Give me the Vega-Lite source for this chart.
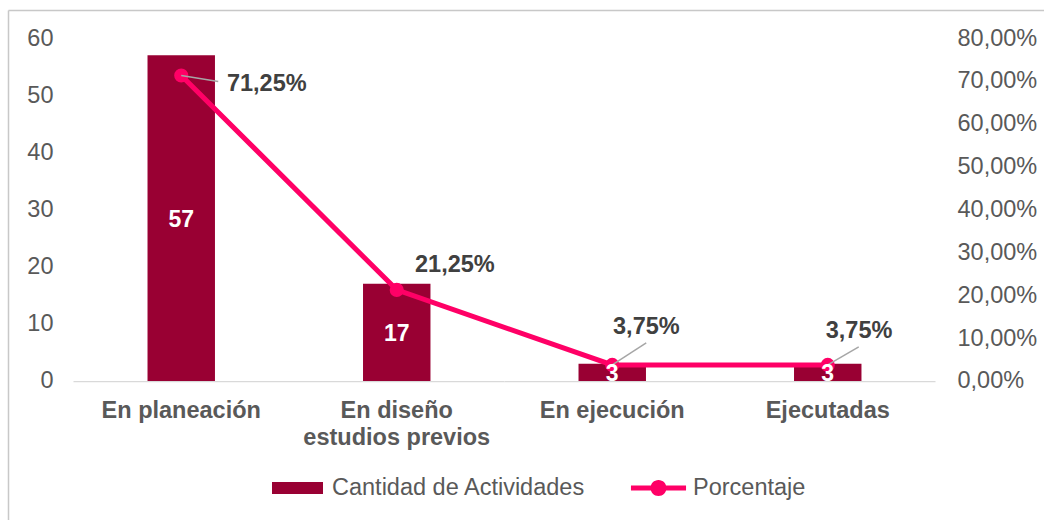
{
  "$schema": "https://vega.github.io/schema/vega-lite/v6.json",
  "width": 1036,
  "height": 510,
  "autosize": {"type": "none"},
  "padding": {"left": 8, "top": 10, "right": 0, "bottom": 0},
  "background": "white",
  "config": {
    "view": {"stroke": null},
    "font": "Liberation Sans",
    "locale": {"number": {"decimal": ",", "thousands": ".", "grouping": [3], "currency": ["", " €"]}},
    "axis": {"grid": false, "ticks": false, "domain": false, "labelFont": "Liberation Sans", "labelColor": "#595959", "labelFontSize": 23.5}
  },
  "data": {"values": [
    {"cat": "En planeación", "count": 57, "pct": 0.7125},
    {"cat": "En diseño estudios previos", "count": 17, "pct": 0.2125},
    {"cat": "En ejecución", "count": 3, "pct": 0.0375},
    {"cat": "Ejecutadas", "count": 3, "pct": 0.0375}
  ]},
  "layer": [
    {
      "mark": {"type": "bar", "color": "#d9d9d9", "width": {"band": 1}},
      "encoding": {
        "x": {"field": "cat", "type": "nominal", "axis": null, "scale": {"type": "band", "domain": ["En planeación", "En diseño estudios previos", "En ejecución", "Ejecutadas"], "paddingInner": 0, "paddingOuter": 0.4037, "align": 0.3764}},
        "y": {"datum": 0, "type": "quantitative", "axis": null, "scale": {"domain": [-24.315, 64.898], "nice": false, "zero": false}},
        "y2": {"datum": -0.2}
      }
    },
    {
      "mark": {"type": "bar", "width": {"band": 0.313}},
      "encoding": {
        "x": {"field": "cat", "type": "nominal", "scale": {"type": "band", "domain": ["En planeación", "En diseño estudios previos", "En ejecución", "Ejecutadas"], "paddingInner": 0, "paddingOuter": 0.4037, "align": 0.3764},
          "axis": {"orient": "bottom", "title": null, "labelAngle": 0, "labelFontWeight": "bold", "labelBaseline": "alphabetic", "labelPadding": -103, "labelLineHeight": 27, "labelOverlap": false, "labelLimit": 400,
            "labelExpr": "datum.label == 'En diseño estudios previos' ? ['En diseño', 'estudios previos'] : datum.label"}},
        "y": {"field": "count", "type": "quantitative", "scale": {"domain": [-24.315, 64.898], "nice": false, "zero": false},
          "axis": {"orient": "left", "title": null, "values": [0, 10, 20, 30, 40, 50, 60], "format": "d", "labelPadding": -45, "labelAlign": "right", "labelBaseline": "middle", "domain": true, "domainColor": "#c8c8c8", "domainWidth": 1.5}},
        "y2": {"datum": 0},
        "color": {"datum": "Cantidad de Actividades", "type": "nominal",
          "scale": {"domain": ["Cantidad de Actividades", "Porcentaje"], "range": ["#990033", "#FF0066"]},
          "legend": {"title": null, "orient": "none", "legendX": 264, "legendY": 452.5, "direction": "horizontal", "symbolSize": 2601, "labelOffset": 9, "columnPadding": 44, "labelFont": "Liberation Sans", "labelFontSize": 23.5, "labelColor": "#595959", "padding": 0, "labelLimit": 400, "symbolStrokeWidth": 0,
            "encode": {"symbols": {"update": {
              "shape": {"signal": "datum.value === 'Porcentaje' ? 'M-1.08,-0.098H1.08V0.098H-1.08Z M0.314,0A0.314,0.314,0,1,1,-0.314,0A0.314,0.314,0,1,1,0.314,0Z' : 'M-1,-0.235H1V0.235H-1Z'"},
              "fill": {"signal": "datum.value === 'Porcentaje' ? '#FF0066' : '#990033'"},
              "stroke": {"value": "transparent"},
              "opacity": {"value": 1}
            }}}}}
      }
    },
    {
      "mark": {"type": "line", "strokeWidth": 5},
      "encoding": {
        "x": {"field": "cat", "type": "nominal", "bandPosition": 0.5, "scale": {"type": "band", "domain": ["En planeación", "En diseño estudios previos", "En ejecución", "Ejecutadas"], "paddingInner": 0, "paddingOuter": 0.4037, "align": 0.3764},
          "axis": {"orient": "top", "title": null, "labels": false, "ticks": false, "domain": true, "domainColor": "#c8c8c8", "domainWidth": 1.5}},
        "y": {"field": "pct", "type": "quantitative", "scale": {"domain": [-0.3242, 0.86531], "nice": false, "zero": false},
          "axis": {"orient": "right", "title": null, "values": [0, 0.1, 0.2, 0.3, 0.4, 0.5, 0.6, 0.7, 0.8], "format": ".2%", "labelPadding": -87, "labelAlign": "left", "labelBaseline": "middle", "domain": false}},
        "color": {"datum": "Porcentaje", "type": "nominal"}
      }
    },
    {
      "mark": {"type": "circle", "size": 200, "opacity": 1},
      "encoding": {
        "x": {"field": "cat", "type": "nominal", "bandPosition": 0.5, "axis": null, "scale": {"type": "band", "domain": ["En planeación", "En diseño estudios previos", "En ejecución", "Ejecutadas"], "paddingInner": 0, "paddingOuter": 0.4037, "align": 0.3764}},
        "y": {"field": "pct", "type": "quantitative", "axis": null, "scale": {"domain": [-0.3242, 0.86531], "nice": false, "zero": false}},
        "color": {"datum": "Porcentaje", "type": "nominal"}
      }
    },
    {
      "transform": [{"filter": "datum.cat == 'En planeación'"}],
      "mark": {"type": "rule", "color": "#a6a6a6", "strokeWidth": 1.5, "x2Offset": 37, "y2Offset": 6},
      "encoding": {
        "x": {"field": "cat", "type": "nominal", "bandPosition": 0.5, "axis": null, "scale": {"type": "band", "domain": ["En planeación", "En diseño estudios previos", "En ejecución", "Ejecutadas"], "paddingInner": 0, "paddingOuter": 0.4037, "align": 0.3764}},
        "x2": {"field": "cat"},
        "y": {"field": "pct", "type": "quantitative", "axis": null, "scale": {"domain": [-0.3242, 0.86531], "nice": false, "zero": false}},
        "y2": {"field": "pct"}
      }
    },
    {
      "transform": [{"filter": "datum.cat == 'En ejecución'"}],
      "mark": {"type": "rule", "color": "#a6a6a6", "strokeWidth": 1.5, "x2Offset": 34, "y2Offset": -22},
      "encoding": {
        "x": {"field": "cat", "type": "nominal", "bandPosition": 0.5, "axis": null, "scale": {"type": "band", "domain": ["En planeación", "En diseño estudios previos", "En ejecución", "Ejecutadas"], "paddingInner": 0, "paddingOuter": 0.4037, "align": 0.3764}},
        "x2": {"field": "cat"},
        "y": {"field": "pct", "type": "quantitative", "axis": null, "scale": {"domain": [-0.3242, 0.86531], "nice": false, "zero": false}},
        "y2": {"field": "pct"}
      }
    },
    {
      "transform": [{"filter": "datum.cat == 'Ejecutadas'"}],
      "mark": {"type": "rule", "color": "#a6a6a6", "strokeWidth": 1.5, "x2Offset": 31, "y2Offset": -18},
      "encoding": {
        "x": {"field": "cat", "type": "nominal", "bandPosition": 0.5, "axis": null, "scale": {"type": "band", "domain": ["En planeación", "En diseño estudios previos", "En ejecución", "Ejecutadas"], "paddingInner": 0, "paddingOuter": 0.4037, "align": 0.3764}},
        "x2": {"field": "cat"},
        "y": {"field": "pct", "type": "quantitative", "axis": null, "scale": {"domain": [-0.3242, 0.86531], "nice": false, "zero": false}},
        "y2": {"field": "pct"}
      }
    },
    {
      "transform": [{"filter": "datum.cat == 'En planeación'"}],
      "mark": {"type": "text", "align": "left", "baseline": "alphabetic", "dx": 45.7, "dy": 15.2, "fontWeight": "bold", "fontSize": 23.5, "color": "#404040", "font": "Liberation Sans"},
      "encoding": {
        "x": {"field": "cat", "type": "nominal", "bandPosition": 0.5, "axis": null, "scale": {"type": "band", "domain": ["En planeación", "En diseño estudios previos", "En ejecución", "Ejecutadas"], "paddingInner": 0, "paddingOuter": 0.4037, "align": 0.3764}},
        "y": {"field": "pct", "type": "quantitative", "axis": null, "scale": {"domain": [-0.3242, 0.86531], "nice": false, "zero": false}},
        "text": {"field": "pct", "type": "quantitative", "format": ".2%"}
      }
    },
    {
      "transform": [{"filter": "datum.cat == 'En diseño estudios previos'"}],
      "mark": {"type": "text", "align": "left", "baseline": "alphabetic", "dx": 18.3, "dy": -17.6, "fontWeight": "bold", "fontSize": 23.5, "color": "#404040", "font": "Liberation Sans"},
      "encoding": {
        "x": {"field": "cat", "type": "nominal", "bandPosition": 0.5, "axis": null, "scale": {"type": "band", "domain": ["En planeación", "En diseño estudios previos", "En ejecución", "Ejecutadas"], "paddingInner": 0, "paddingOuter": 0.4037, "align": 0.3764}},
        "y": {"field": "pct", "type": "quantitative", "axis": null, "scale": {"domain": [-0.3242, 0.86531], "nice": false, "zero": false}},
        "text": {"field": "pct", "type": "quantitative", "format": ".2%"}
      }
    },
    {
      "transform": [{"filter": "datum.cat == 'En ejecución'"}],
      "mark": {"type": "text", "align": "left", "baseline": "alphabetic", "dx": 0.8, "dy": -30.9, "fontWeight": "bold", "fontSize": 23.5, "color": "#404040", "font": "Liberation Sans"},
      "encoding": {
        "x": {"field": "cat", "type": "nominal", "bandPosition": 0.5, "axis": null, "scale": {"type": "band", "domain": ["En planeación", "En diseño estudios previos", "En ejecución", "Ejecutadas"], "paddingInner": 0, "paddingOuter": 0.4037, "align": 0.3764}},
        "y": {"field": "pct", "type": "quantitative", "axis": null, "scale": {"domain": [-0.3242, 0.86531], "nice": false, "zero": false}},
        "text": {"field": "pct", "type": "quantitative", "format": ".2%"}
      }
    },
    {
      "transform": [{"filter": "datum.cat == 'Ejecutadas'"}],
      "mark": {"type": "text", "align": "left", "baseline": "alphabetic", "dx": -2, "dy": -26.6, "fontWeight": "bold", "fontSize": 23.5, "color": "#404040", "font": "Liberation Sans"},
      "encoding": {
        "x": {"field": "cat", "type": "nominal", "bandPosition": 0.5, "axis": null, "scale": {"type": "band", "domain": ["En planeación", "En diseño estudios previos", "En ejecución", "Ejecutadas"], "paddingInner": 0, "paddingOuter": 0.4037, "align": 0.3764}},
        "y": {"field": "pct", "type": "quantitative", "axis": null, "scale": {"domain": [-0.3242, 0.86531], "nice": false, "zero": false}},
        "text": {"field": "pct", "type": "quantitative", "format": ".2%"}
      }
    },
    {
      "mark": {"type": "text", "align": "center", "baseline": "alphabetic", "dy": 8.5, "fontWeight": "bold", "fontSize": 23, "color": "white", "font": "Liberation Sans"},
      "encoding": {
        "x": {"field": "cat", "type": "nominal", "bandPosition": 0.5, "axis": null, "scale": {"type": "band", "domain": ["En planeación", "En diseño estudios previos", "En ejecución", "Ejecutadas"], "paddingInner": 0, "paddingOuter": 0.4037, "align": 0.3764}},
        "y": {"field": "count", "type": "quantitative", "axis": null, "scale": {"domain": [-48.63, 129.796], "nice": false, "zero": false}},
        "text": {"field": "count", "type": "quantitative"}
      }
    }
  ],
  "resolve": {"scale": {"x": "independent", "y": "independent"}, "axis": {"x": "independent", "y": "independent"}}
}
